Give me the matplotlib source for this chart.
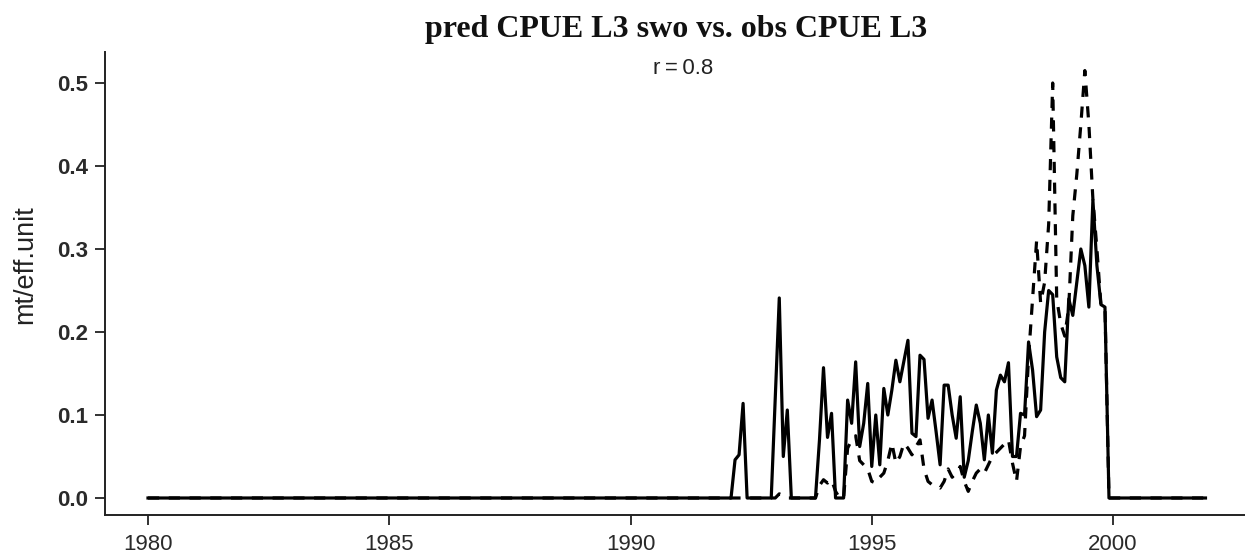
import numpy as np
import matplotlib
matplotlib.use("Agg")
import matplotlib.pyplot as plt

# monthly series, Jan 1980 .. Dec 2001; only months 145..239 are non-zero
start_year = 1980
n_months = 264
first_active = 145

obs_active = [
    0, 0.046, 0.052, 0.114, 0, 0, 0, 0, 0, 0,
    0, 0.12, 0.241, 0.05, 0.106, 0, 0, 0, 0, 0,
    0, 0, 0.07, 0.157, 0.073, 0.102, 0, 0, 0, 0.118,
    0.09, 0.164, 0.062, 0.09, 0.138, 0.038, 0.10, 0.04, 0.132, 0.10,
    0.13, 0.166, 0.14, 0.165, 0.19, 0.078, 0.074, 0.172, 0.167, 0.096,
    0.118, 0.08, 0.04, 0.136, 0.136, 0.10, 0.072, 0.122, 0.025, 0.045,
    0.08, 0.112, 0.09, 0.046, 0.10, 0.054, 0.13, 0.148, 0.14, 0.163,
    0.05, 0.05, 0.102, 0.10, 0.188, 0.154, 0.098, 0.106, 0.20, 0.25,
    0.245, 0.17, 0.145, 0.14, 0.24, 0.22, 0.26, 0.30, 0.28, 0.23,
    0.359, 0.28, 0.233, 0.23, 0,
]

pred_active = [
    0, 0, 0, 0, 0, 0, 0, 0, 0, 0,
    0, 0, 0.005, 0.003, 0, 0, 0, 0, 0, 0,
    0, 0, 0.015, 0.022, 0.018, 0.022, 0.008, 0, 0, 0.06,
    0.07, 0.075, 0.045, 0.04, 0.035, 0.02, 0.018, 0.025, 0.03, 0.045,
    0.066, 0.042, 0.05, 0.066, 0.06, 0.052, 0.062, 0.07, 0.035, 0.02,
    0.016, 0.015, 0.012, 0.02, 0.035, 0.025, 0.03, 0.038, 0.02, 0.008,
    0.02, 0.03, 0.035, 0.03, 0.04, 0.05, 0.055, 0.06, 0.065, 0.07,
    0.042, 0.02, 0.062, 0.075, 0.17, 0.24, 0.31, 0.235, 0.26, 0.33,
    0.50, 0.24, 0.21, 0.195, 0.23, 0.34, 0.39, 0.45, 0.515, 0.45,
    0.36, 0.30, 0.233, 0.23, 0,
]

x_ticks = [1980, 1985, 1990, 1995, 2000]
y_ticks = [0.0, 0.1, 0.2, 0.3, 0.4, 0.5]


def full_series(active):
    s = np.zeros(n_months)
    s[first_active:first_active + len(active)] = active
    return s


t = start_year + np.arange(n_months) / 12.0
obs = full_series(obs_active)
pred = full_series(pred_active)

W, H = 1245, 555
fig = plt.figure(figsize=(W / 100, H / 100), dpi=100)
ax = fig.add_axes([105 / W, 1 - 515 / H, (W - 105) / W, (515 - 52) / H])

ax.plot(t, pred, color="black", lw=2.3, linestyle=(0, (3.5, 3)))
ax.plot(t, obs, color="black", lw=2.3)

ax.set_xlim(1980 - 43 / 48.25, 1980 + (W - 148) / 48.25)
ax.set_ylim(-17 / 830, 446 / 830)

for side in ["top", "right"]:
    ax.spines[side].set_visible(False)
for side in ["left", "bottom"]:
    ax.spines[side].set_linewidth(1.4)
    ax.spines[side].set_color("#222222")

ax.set_xticks(x_ticks)
ax.set_xticklabels([str(v) for v in x_ticks])
ax.set_yticks(y_ticks)
ax.set_yticklabels(["%.1f" % v for v in y_ticks])
ax.tick_params(axis="both", direction="out", length=7, width=1.3,
               color="#222222", labelsize=16, labelcolor="#2a2a2a")
ax.tick_params(axis="y", pad=5)
ax.tick_params(axis="x", pad=7)
for lab in ax.get_xticklabels():
    lab.set_family("Liberation Sans")
for lab in ax.get_yticklabels():
    lab.set_family("Liberation Sans")
    lab.set_fontweight("bold")

fig.text(25 / W, 1 - 265 / H, "mt/eff.unit", rotation=90, ha="center",
         va="center", fontsize=19.5, family="Liberation Sans",
         color="#222222")

fig.text(676 / W, 1 - 30 / H, "pred CPUE L3 swo vs. obs CPUE L3",
         ha="center", va="center", fontsize=23, fontweight="bold",
         family="Liberation Serif", color="#111111")
fig.text(683 / W, 1 - 68 / H, "r\u2009=\u20090.8", ha="center", va="center",
         fontsize=16, family=["Liberation Sans", "DejaVu Sans"],
         color="#222222")

fig.savefig("out.png", dpi=100)
